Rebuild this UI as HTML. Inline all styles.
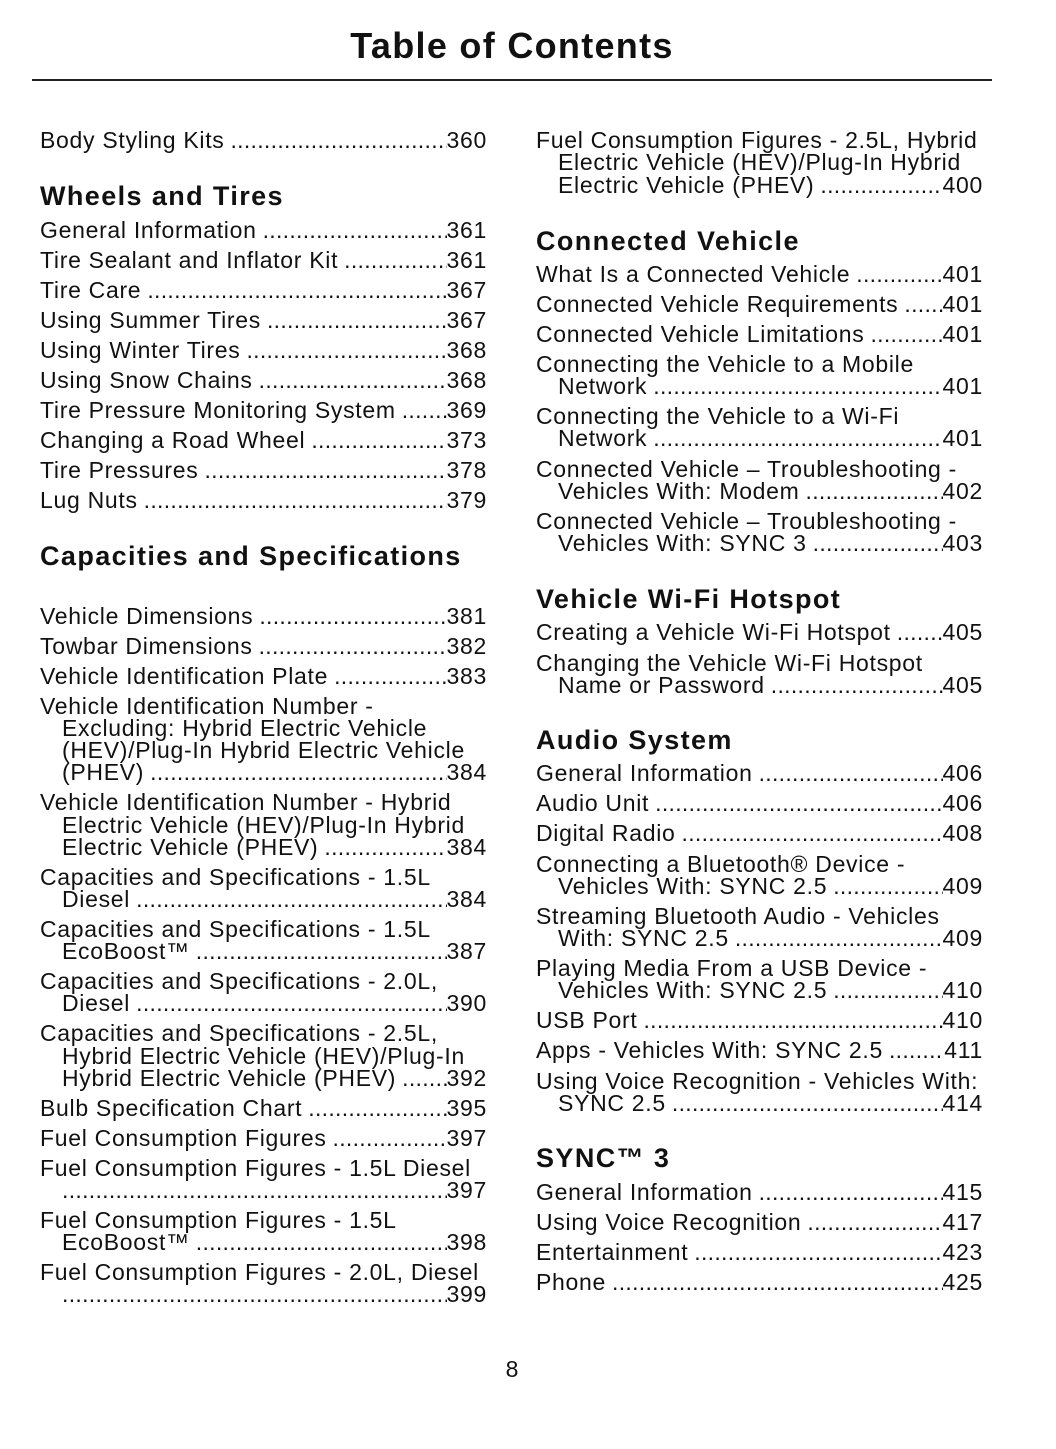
<!DOCTYPE html>
<html><head><meta charset="utf-8">
<style>
html,body{margin:0;padding:0;background:#fff;}
body{width:1056px;height:1449px;position:relative;overflow:hidden;font-family:"Liberation Sans",sans-serif;color:#111;}
.t{position:absolute;left:0;width:1024px;top:25px;text-align:center;font-weight:bold;font-size:36px;letter-spacing:1.3px;}
.rule{position:absolute;left:32px;width:960px;top:79px;height:1.5px;background:#222;}
.c{position:absolute;width:447px;}
.L{left:40px}.R{left:536px}
.e,.p{position:absolute;left:0;width:447px;height:26px;line-height:26px;font-size:23px;letter-spacing:0.7px;white-space:nowrap;display:flex;}
.in{left:22px;width:425px;}
.e i{flex:1;overflow:hidden;font-style:normal;margin-left:6px;letter-spacing:0;}
.e i::after{content:"......................................................................................................................................................................";letter-spacing:0.3px;}
.h{position:absolute;left:0;font-weight:bold;font-size:27px;letter-spacing:1.4px;height:32px;line-height:32px;white-space:nowrap;}
.pg{position:absolute;left:0;width:1024px;top:1356px;text-align:center;font-size:23px;}
</style></head><body>
<div class="t">Table of Contents</div>
<div class="rule"></div>

<div class="c L">
<div class="e" style="top:127px"><span>Body Styling Kits</span><i></i><span>360</span></div>
<div class="h" style="top:180px">Wheels and Tires</div>
<div class="e" style="top:217px"><span>General Information</span><i></i><span>361</span></div>
<div class="e" style="top:247px"><span>Tire Sealant and Inflator Kit</span><i></i><span>361</span></div>
<div class="e" style="top:277px"><span>Tire Care</span><i></i><span>367</span></div>
<div class="e" style="top:307px"><span>Using Summer Tires</span><i></i><span>367</span></div>
<div class="e" style="top:337px"><span>Using Winter Tires</span><i></i><span>368</span></div>
<div class="e" style="top:367px"><span>Using Snow Chains</span><i></i><span>368</span></div>
<div class="e" style="top:397px"><span>Tire Pressure Monitoring System</span><i></i><span>369</span></div>
<div class="e" style="top:427px"><span>Changing a Road Wheel</span><i></i><span>373</span></div>
<div class="e" style="top:457px"><span>Tire Pressures</span><i></i><span>378</span></div>
<div class="e" style="top:487px"><span>Lug Nuts</span><i></i><span>379</span></div>
<div class="h" style="top:540px">Capacities and Specifications</div>
<div class="e" style="top:603px"><span>Vehicle Dimensions</span><i></i><span>381</span></div>
<div class="e" style="top:633px"><span>Towbar Dimensions</span><i></i><span>382</span></div>
<div class="e" style="top:663px"><span>Vehicle Identification Plate</span><i></i><span>383</span></div>
<div class="p" style="top:693px">Vehicle Identification Number -</div>
<div class="p in" style="top:715px">Excluding: Hybrid Electric Vehicle</div>
<div class="p in" style="top:737px">(HEV)/Plug-In Hybrid Electric Vehicle</div>
<div class="e in" style="top:759px"><span>(PHEV)</span><i></i><span>384</span></div>
<div class="p" style="top:789px">Vehicle Identification Number - Hybrid</div>
<div class="p in" style="top:812px">Electric Vehicle (HEV)/Plug-In Hybrid</div>
<div class="e in" style="top:834px"><span>Electric Vehicle (PHEV)</span><i></i><span>384</span></div>
<div class="p" style="top:864px">Capacities and Specifications - 1.5L</div>
<div class="e in" style="top:886px"><span>Diesel</span><i></i><span>384</span></div>
<div class="p" style="top:916px">Capacities and Specifications - 1.5L</div>
<div class="e in" style="top:938px"><span>EcoBoost™</span><i></i><span>387</span></div>
<div class="p" style="top:968px">Capacities and Specifications - 2.0L,</div>
<div class="e in" style="top:990px"><span>Diesel</span><i></i><span>390</span></div>
<div class="p" style="top:1020px">Capacities and Specifications - 2.5L,</div>
<div class="p in" style="top:1043px">Hybrid Electric Vehicle (HEV)/Plug-In</div>
<div class="e in" style="top:1065px"><span>Hybrid Electric Vehicle (PHEV)</span><i></i><span>392</span></div>
<div class="e" style="top:1095px"><span>Bulb Specification Chart</span><i></i><span>395</span></div>
<div class="e" style="top:1125px"><span>Fuel Consumption Figures</span><i></i><span>397</span></div>
<div class="p" style="top:1155px">Fuel Consumption Figures - 1.5L Diesel</div>
<div class="e in" style="top:1177px"><i style="margin-left:0"></i><span>397</span></div>
<div class="p" style="top:1207px">Fuel Consumption Figures - 1.5L</div>
<div class="e in" style="top:1229px"><span>EcoBoost™</span><i></i><span>398</span></div>
<div class="p" style="top:1259px">Fuel Consumption Figures - 2.0L, Diesel</div>
<div class="e in" style="top:1281px"><i style="margin-left:0"></i><span>399</span></div>
</div>

<div class="c R">
<div class="p" style="top:127px">Fuel Consumption Figures - 2.5L, Hybrid</div>
<div class="p in" style="top:149px">Electric Vehicle (HEV)/Plug-In Hybrid</div>
<div class="e in" style="top:172px"><span>Electric Vehicle (PHEV)</span><i></i><span>400</span></div>
<div class="h" style="top:225px">Connected Vehicle</div>
<div class="e" style="top:261px"><span>What Is a Connected Vehicle</span><i></i><span>401</span></div>
<div class="e" style="top:291px"><span>Connected Vehicle Requirements</span><i></i><span>401</span></div>
<div class="e" style="top:321px"><span>Connected Vehicle Limitations</span><i></i><span>401</span></div>
<div class="p" style="top:351px">Connecting the Vehicle to a Mobile</div>
<div class="e in" style="top:373px"><span>Network</span><i></i><span>401</span></div>
<div class="p" style="top:403px">Connecting the Vehicle to a Wi-Fi</div>
<div class="e in" style="top:425px"><span>Network</span><i></i><span>401</span></div>
<div class="p" style="top:456px">Connected Vehicle – Troubleshooting -</div>
<div class="e in" style="top:478px"><span>Vehicles With: Modem</span><i></i><span>402</span></div>
<div class="p" style="top:508px">Connected Vehicle – Troubleshooting -</div>
<div class="e in" style="top:530px"><span>Vehicles With: SYNC 3</span><i></i><span>403</span></div>
<div class="h" style="top:583px">Vehicle Wi-Fi Hotspot</div>
<div class="e" style="top:619px"><span>Creating a Vehicle Wi-Fi Hotspot</span><i></i><span>405</span></div>
<div class="p" style="top:650px">Changing the Vehicle Wi-Fi Hotspot</div>
<div class="e in" style="top:672px"><span>Name or Password</span><i></i><span>405</span></div>
<div class="h" style="top:724px">Audio System</div>
<div class="e" style="top:760px"><span>General Information</span><i></i><span>406</span></div>
<div class="e" style="top:790px"><span>Audio Unit</span><i></i><span>406</span></div>
<div class="e" style="top:820px"><span>Digital Radio</span><i></i><span>408</span></div>
<div class="p" style="top:851px">Connecting a Bluetooth® Device -</div>
<div class="e in" style="top:873px"><span>Vehicles With: SYNC 2.5</span><i></i><span>409</span></div>
<div class="p" style="top:903px">Streaming Bluetooth Audio - Vehicles</div>
<div class="e in" style="top:925px"><span>With: SYNC 2.5</span><i></i><span>409</span></div>
<div class="p" style="top:955px">Playing Media From a USB Device -</div>
<div class="e in" style="top:977px"><span>Vehicles With: SYNC 2.5</span><i></i><span>410</span></div>
<div class="e" style="top:1007px"><span>USB Port</span><i></i><span>410</span></div>
<div class="e" style="top:1037px"><span>Apps - Vehicles With: SYNC 2.5</span><i></i><span>411</span></div>
<div class="p" style="top:1068px">Using Voice Recognition - Vehicles With:</div>
<div class="e in" style="top:1090px"><span>SYNC 2.5</span><i></i><span>414</span></div>
<div class="h" style="top:1142px">SYNC™ 3</div>
<div class="e" style="top:1179px"><span>General Information</span><i></i><span>415</span></div>
<div class="e" style="top:1209px"><span>Using Voice Recognition</span><i></i><span>417</span></div>
<div class="e" style="top:1239px"><span>Entertainment</span><i></i><span>423</span></div>
<div class="e" style="top:1269px"><span>Phone</span><i></i><span>425</span></div>
</div>

<div class="pg">8</div>
</body></html>
